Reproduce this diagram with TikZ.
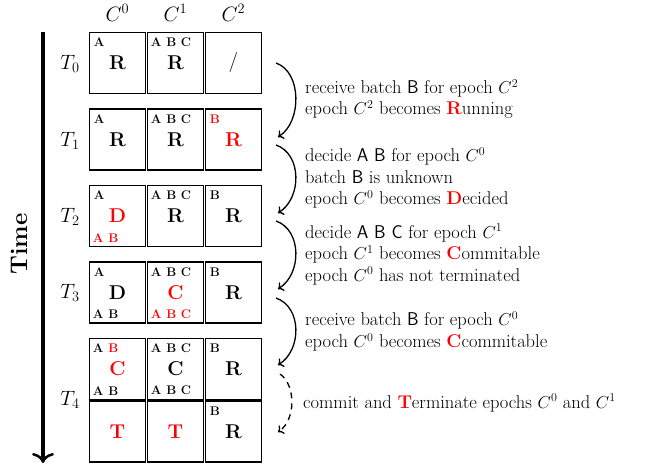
\documentclass[tikz,border=0pt]{standalone}
\usepackage{fontspec}
\usetikzlibrary{arrows.meta}
\begin{document}
\begin{tikzpicture}[x=1pt,y=-1pt,
  cell/.style={draw, line width=1.5pt, minimum width=56pt, minimum height=61pt, inner sep=0pt, font=\fontsize{20}{20}\selectfont\bfseries},
  lbl/.style={inner sep=0pt, font=\fontsize{12.5}{12.5}\selectfont\bfseries},
  desc/.style={anchor=west, align=left, inner sep=0pt, font=\fontsize{18.5}{21.5}\selectfont},
  hdr/.style={font=\fontsize{20}{20}\selectfont},
  curvearrow/.style={line width=1.3pt, -{To[length=5pt,width=10pt]}},
]
\useasboundingbox (0,0) rectangle (647,465);
% column headers
\node[hdr] (h0) at (117.5,13) {$C^0$};
\node[hdr] (h1) at (175.5,13) {$C^1$};
\node[hdr] (h2) at (233.5,13) {$C^2$};
% row labels
\node[hdr] (t0) at (70,64) {$T_0$};
\node[hdr] (t1) at (70,141) {$T_1$};
\node[hdr] (t2) at (70,217) {$T_2$};
\node[hdr] (t3) at (70,293) {$T_3$};
\node[hdr] (t4) at (70,400) {$T_4$};
% time arrow
\coordinate (ta) at (43,32);
\coordinate (tb) at (43,463);
\draw[line width=3.5pt, -{To[length=10pt,width=22pt,line width=2.5pt]}] (ta) -- (tb);
\node[rotate=90, font=\fontsize{24}{24}\selectfont\bfseries] (time) at (19,244) {Time};
% ---- T0
\node[cell] (a0) at (117.5,63) {R};
\node[cell] (b0) at (175.5,63) {R};
\node[cell, font=\fontsize{20}{20}\selectfont] (c0) at (233.5,63) {/};
\node[lbl, anchor=north west] at ([xshift=5pt,yshift=-6pt]a0.north west) {A};
\node[lbl, anchor=north west] at ([xshift=4pt,yshift=-6pt]b0.north west) {A B C};
% ---- T1
\node[cell] (a1) at (117.5,139.5) {R};
\node[cell] (b1) at (175.5,139.5) {R};
\node[cell, text=red] (c1) at (233.5,139.5) {R};
\node[lbl, anchor=north west] at ([xshift=5pt,yshift=-6pt]a1.north west) {A};
\node[lbl, anchor=north west] at ([xshift=4pt,yshift=-6pt]b1.north west) {A B C};
\node[lbl, anchor=north west, text=red] at ([xshift=5pt,yshift=-6pt]c1.north west) {B};
% ---- T2
\node[cell, text=red] (a2) at (117.5,216) {D};
\node[cell] (b2) at (175.5,216) {R};
\node[cell] (c2) at (233.5,216) {R};
\node[lbl, anchor=north west] at ([xshift=5pt,yshift=-6pt]a2.north west) {A};
\node[lbl, anchor=south west, text=red] at ([xshift=4pt,yshift=5pt]a2.south west) {A B};
\node[lbl, anchor=north west] at ([xshift=4pt,yshift=-6pt]b2.north west) {A B C};
\node[lbl, anchor=north west] at ([xshift=5pt,yshift=-6pt]c2.north west) {B};
% ---- T3
\node[cell] (a3) at (117.5,292.5) {D};
\node[cell, text=red] (b3) at (175.5,292.5) {C};
\node[cell] (c3) at (233.5,292.5) {R};
\node[lbl, anchor=north west] at ([xshift=5pt,yshift=-6pt]a3.north west) {A};
\node[lbl, anchor=south west] at ([xshift=4pt,yshift=5pt]a3.south west) {A B};
\node[lbl, anchor=north west] at ([xshift=4pt,yshift=-6pt]b3.north west) {A B C};
\node[lbl, anchor=south west, text=red] at ([xshift=4pt,yshift=5pt]b3.south west) {A B C};
\node[lbl, anchor=north west] at ([xshift=5pt,yshift=-6pt]c3.north west) {B};
% ---- T4 top
\node[cell, text=red] (a4) at (117.5,369) {C};
\node[cell] (b4) at (175.5,369) {C};
\node[cell] (c4) at (233.5,369) {R};
\node[lbl, anchor=north west] at ([xshift=4pt,yshift=-6pt]a4.north west) {A \textcolor{red}{B}};
\node[lbl, anchor=south west] at ([xshift=4pt,yshift=5pt]a4.south west) {A B};
\node[lbl, anchor=north west] at ([xshift=4pt,yshift=-6pt]b4.north west) {A B C};
\node[lbl, anchor=south west] at ([xshift=4pt,yshift=5pt]b4.south west) {A B C};
\node[lbl, anchor=north west] at ([xshift=5pt,yshift=-6pt]c4.north west) {B};
% ---- T4 bottom
\node[cell, text=red] (a5) at (117.5,431.5) {T};
\node[cell, text=red] (b5) at (175.5,431.5) {T};
\node[cell] (c5) at (233.5,431.5) {R};
\node[lbl, anchor=north west] at ([xshift=5pt,yshift=-6pt]c5.north west) {B};
% ---- curved arrows
\coordinate (s1) at (276,63);  \coordinate (e1) at (278,137);
\coordinate (s2) at (276,145); \coordinate (e2) at (278,213);
\coordinate (s3) at (276,221); \coordinate (e3) at (278,289);
\coordinate (s4) at (276,298); \coordinate (e4) at (278,365);
\coordinate (s5) at (280,374); \coordinate (e5) at (278,432);
\draw[curvearrow] (s1) .. controls (302,72) and (302,122) .. (e1);
\draw[curvearrow] (s2) .. controls (302,154) and (302,198) .. (e2);
\draw[curvearrow] (s3) .. controls (302,230) and (302,274) .. (e3);
\draw[curvearrow] (s4) .. controls (302,307) and (302,350) .. (e4);
\draw[curvearrow, dash pattern=on 6pt off 5pt] (s5) .. controls (296,385) and (296,420) .. (e5);
% ---- descriptions
\node[desc] (d1) at (305,99) {receive batch \textsf{B} for epoch $C^2$\\epoch $C^2$ becomes \textcolor{red}{\textbf{R}}unning};
\node[desc] (d2) at (305,178) {decide \textsf{A B} for epoch $C^0$\\batch \textsf{B} is unknown\\epoch $C^0$ becomes \textcolor{red}{\textbf{D}}ecided};
\node[desc] (d3) at (305,254.5) {decide \textsf{A B C} for epoch $C^1$\\epoch $C^1$ becomes \textcolor{red}{\textbf{C}}ommitable\\epoch $C^0$ has not terminated};
\node[desc] (d4) at (305,331.5) {receive batch \textsf{B} for epoch $C^0$\\epoch $C^0$ becomes \textcolor{red}{\textbf{C}}commitable};
\node[desc] (d5) at (303,403) {commit and \textcolor{red}{\textbf{T}}erminate epochs $C^0$ and $C^1$};
\end{tikzpicture}
\end{document}
